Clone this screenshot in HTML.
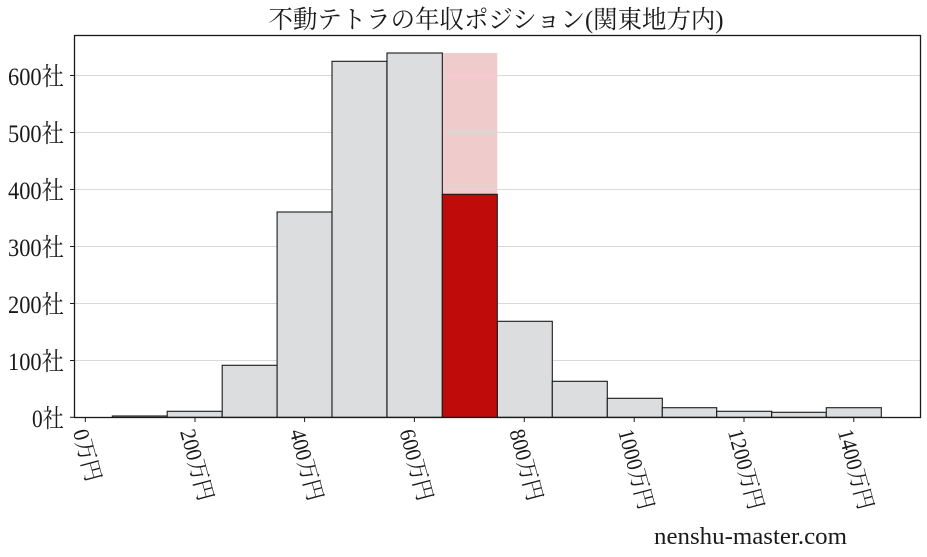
<!DOCTYPE html>
<html>
<head>
<meta charset="utf-8">
<style>
html,body{margin:0;padding:0;background:#fff;}
svg{display:block;}
text{font-family:"Liberation Serif","Noto Serif CJK JP",serif;fill:#1a1a1a;}
</style>
</head>
<body>
<svg width="927" height="557" viewBox="0 0 927 557" xmlns="http://www.w3.org/2000/svg">
<rect x="0" y="0" width="927" height="557" fill="#fff"/>
<!-- title -->
<text x="496" y="28" font-size="25" text-anchor="middle" textLength="455" lengthAdjust="spacingAndGlyphs">不動テトラの年収ポジション(関東地方内)</text>

<!-- pink highlight band -->
<rect x="442.3" y="53" width="55" height="141.5" fill="#f0cbcc"/>

<!-- gridlines -->
<g stroke="#d9d9d9" stroke-width="1">
<line x1="75" y1="360.5" x2="920" y2="360.5"/>
<line x1="75" y1="303.5" x2="920" y2="303.5"/>
<line x1="75" y1="246.5" x2="920" y2="246.5"/>
<line x1="75" y1="189.5" x2="920" y2="189.5"/>
<line x1="75" y1="132.5" x2="920" y2="132.5"/>
<line x1="75" y1="75.5" x2="920" y2="75.5"/>
</g>

<!-- bars -->
<g fill="#dcdddf" stroke="#1a1a1a" stroke-width="1.1">
<rect x="112.3" y="416" width="54.9" height="1.4"/>
<rect x="167.2" y="411.3" width="54.9" height="6"/>
<rect x="222.2" y="365.3" width="54.9" height="52"/>
<rect x="277.1" y="212" width="54.9" height="205.3"/>
<rect x="332.0" y="61.3" width="54.9" height="356"/>
<rect x="387.0" y="53" width="55.3" height="364.3"/>
<rect x="497.3" y="321.3" width="55" height="96"/>
<rect x="552.3" y="381.3" width="55" height="36"/>
<rect x="607.3" y="398.3" width="55" height="19"/>
<rect x="662.3" y="407.7" width="54.4" height="9.6"/>
<rect x="716.7" y="411.3" width="55" height="6"/>
<rect x="771.7" y="412.3" width="54.6" height="5"/>
<rect x="826.3" y="407.7" width="55" height="9.6"/>
</g>
<!-- red bar -->
<rect x="442.3" y="194.3" width="55" height="223" fill="#c00b0b" stroke="#1a1a1a" stroke-width="1.1"/>

<!-- frame -->
<rect x="74.5" y="35.5" width="846" height="382" fill="none" stroke="#1a1a1a" stroke-width="1.3"/>

<!-- y ticks -->
<g stroke="#1a1a1a" stroke-width="1">
<line x1="70" y1="417.3" x2="74.5" y2="417.3"/>
<line x1="70" y1="360.5" x2="74.5" y2="360.5"/>
<line x1="70" y1="303.5" x2="74.5" y2="303.5"/>
<line x1="70" y1="246.5" x2="74.5" y2="246.5"/>
<line x1="70" y1="189.5" x2="74.5" y2="189.5"/>
<line x1="70" y1="132.5" x2="74.5" y2="132.5"/>
<line x1="70" y1="75.5" x2="74.5" y2="75.5"/>
</g>
<g font-size="25">
<text x="32" y="427" textLength="32" lengthAdjust="spacingAndGlyphs">0社</text>
<text x="8" y="370" textLength="56" lengthAdjust="spacingAndGlyphs">100社</text>
<text x="8" y="313" textLength="56" lengthAdjust="spacingAndGlyphs">200社</text>
<text x="8" y="256" textLength="56" lengthAdjust="spacingAndGlyphs">300社</text>
<text x="8" y="199" textLength="56" lengthAdjust="spacingAndGlyphs">400社</text>
<text x="8" y="142" textLength="56" lengthAdjust="spacingAndGlyphs">500社</text>
<text x="8" y="85" textLength="56" lengthAdjust="spacingAndGlyphs">600社</text>
</g>

<!-- x ticks -->
<g stroke="#1a1a1a" stroke-width="1">
<line x1="85.3" y1="417.5" x2="85.3" y2="422"/>
<line x1="195" y1="417.5" x2="195" y2="422"/>
<line x1="304.6" y1="417.5" x2="304.6" y2="422"/>
<line x1="414.4" y1="417.5" x2="414.4" y2="422"/>
<line x1="524.3" y1="417.5" x2="524.3" y2="422"/>
<line x1="634.2" y1="417.5" x2="634.2" y2="422"/>
<line x1="744" y1="417.5" x2="744" y2="422"/>
<line x1="853.8" y1="417.5" x2="853.8" y2="422"/>
</g>
<g font-size="22.5">
<text transform="translate(72.9,431.5) rotate(75)" textLength="53" lengthAdjust="spacingAndGlyphs">0万円</text>
<text transform="translate(180,431.5) rotate(75)" textLength="73" lengthAdjust="spacingAndGlyphs">200万円</text>
<text transform="translate(289.6,431.5) rotate(75)" textLength="73" lengthAdjust="spacingAndGlyphs">400万円</text>
<text transform="translate(399.4,431.5) rotate(75)" textLength="73" lengthAdjust="spacingAndGlyphs">600万円</text>
<text transform="translate(509.3,431.5) rotate(75)" textLength="73" lengthAdjust="spacingAndGlyphs">800万円</text>
<text transform="translate(618.1,431.5) rotate(75)" textLength="82" lengthAdjust="spacingAndGlyphs">1000万円</text>
<text transform="translate(727.9,431.5) rotate(75)" textLength="82" lengthAdjust="spacingAndGlyphs">1200万円</text>
<text transform="translate(837.7,431.5) rotate(75)" textLength="82" lengthAdjust="spacingAndGlyphs">1400万円</text>
</g>

<!-- watermark -->
<text x="654" y="544" font-size="24.5" textLength="193" lengthAdjust="spacingAndGlyphs">nenshu-master.com</text>
</svg>
</body>
</html>
